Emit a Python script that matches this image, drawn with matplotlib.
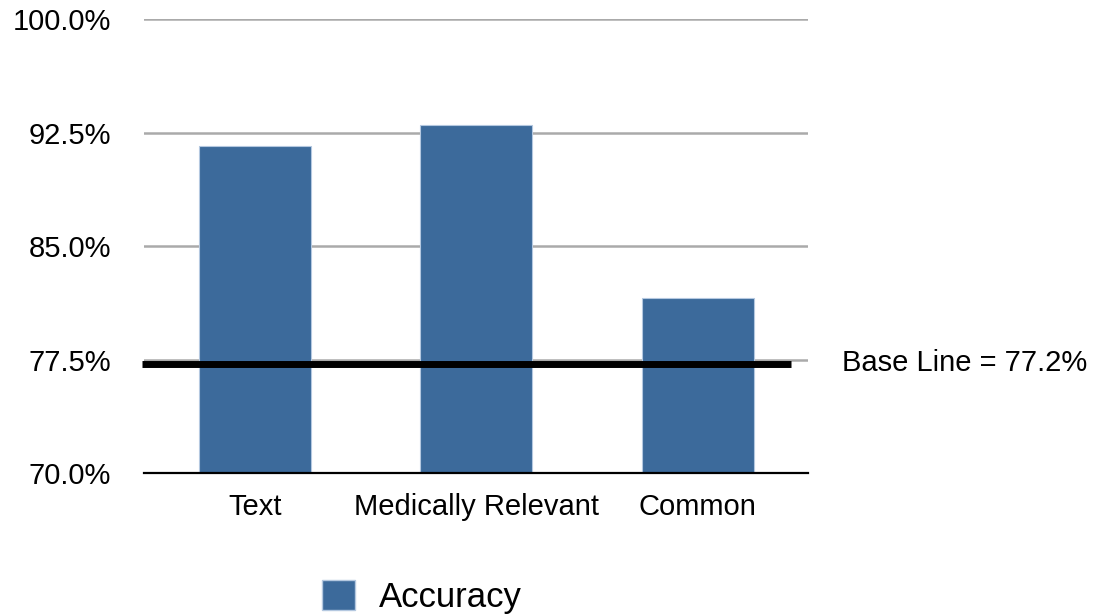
import matplotlib.pyplot as plt
from matplotlib.patches import Patch
from matplotlib.ticker import FuncFormatter

plt.rcParams['font.family'] = ['Liberation Sans', 'DejaVu Sans']

categories = ['Text', 'Medically Relevant', 'Common']
accuracy = [91.6, 93.0, 81.6]
baseline = 77.2
y_ticks = [70.0, 77.5, 85.0, 92.5, 100.0]

bar_color = '#3c6a9b'

fig = plt.figure(figsize=(10.97, 6.15), dpi=100)
ax = fig.add_axes([0.1315, 0.2304, 0.6055, 0.7382])

x = range(len(categories))
ax.bar(x, accuracy, width=0.505, color=bar_color, edgecolor='#b4c8e0',
       linewidth=0.8, zorder=2)

# baseline reference across all categories
ax.plot([-0.512, 2.42], [baseline, baseline], color='black', lw=5,
        solid_capstyle='butt', clip_on=False, zorder=3)
ax.text(1.051, baseline + 0.1, f'Base Line = {baseline}%', transform=ax.get_yaxis_transform(),
        fontsize=21, va='center', ha='left')

ax.set_xlim(-0.5, 2.5)
ax.set_ylim(70, 100)
ax.set_yticks(y_ticks)
ax.yaxis.set_major_formatter(FuncFormatter(lambda v, p: f'{v:.1f}%'))
ax.set_xticks(list(x))
ax.set_xticklabels(categories)
ax.tick_params(axis='both', length=0, labelsize=21)
ax.tick_params(axis='y', pad=24)
ax.tick_params(axis='x', pad=14)

ax.yaxis.grid(True, color='#aaaaaa', lw=1.8, zorder=0)
ax.set_axisbelow(True)
for s in ['top', 'right', 'left']:
    ax.spines[s].set_visible(False)
ax.spines['bottom'].set_color('black')
ax.spines['bottom'].set_linewidth(1.6)
ax.spines['bottom'].set_zorder(4)

fig.legend(handles=[Patch(facecolor=bar_color, edgecolor='#b4c8e0', label='Accuracy')],
           loc='lower left', bbox_to_anchor=(322 / 1097, 1 / 615), frameon=False,
           fontsize=25, handlelength=0.95, handleheight=0.95, handletextpad=0.7,
           borderpad=0, borderaxespad=0)

fig.savefig('out.png', dpi=100)
